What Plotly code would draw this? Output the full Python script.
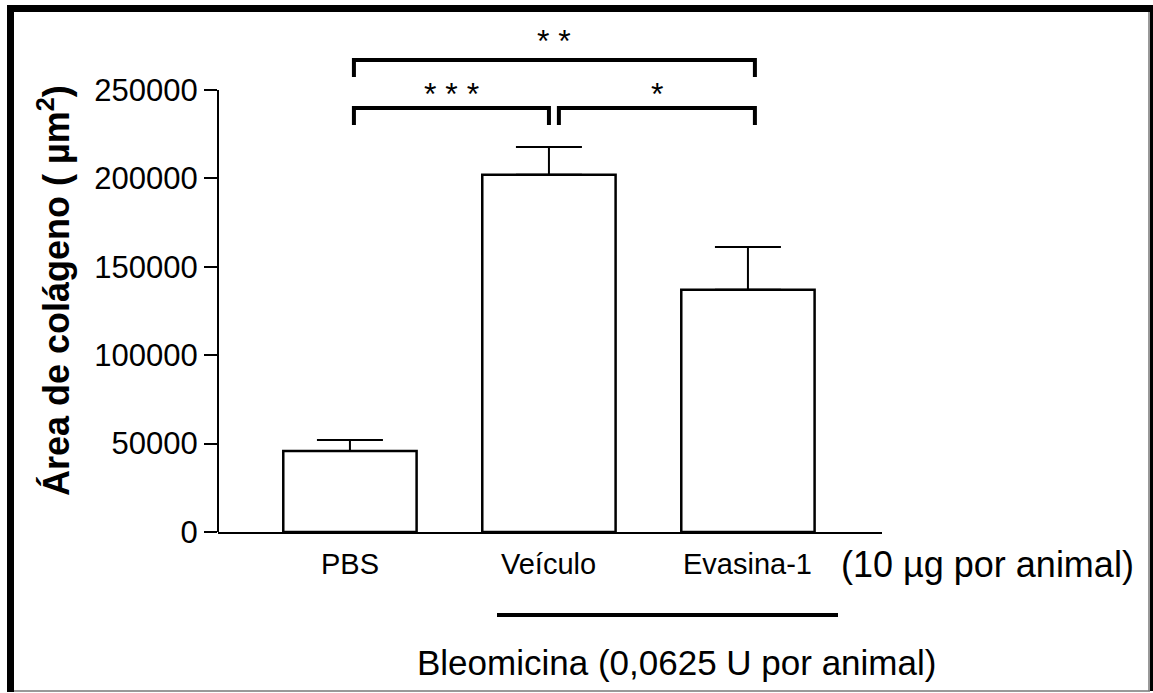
import plotly.graph_objects as go

# Collagen area per group (mean and SEM, µm²)
groups = ["PBS", "Veículo", "Evasina-1"]
means = [45800, 202000, 137000]
sem = [6200, 15800, 24200]

# Significance brackets between groups (tier 0 = lower row)
bracket_from = [0, 0, 1]
bracket_to = [2, 1, 2]
bracket_tier = [1, 0, 0]
bracket_labels = ["* *", "* * *", "*"]

y_ticks = [0, 50000, 100000, 150000, 200000, 250000]

W, H = 1153, 693
FONT = "Liberation Sans, Arial, sans-serif"

# plot-area geometry in pixels
X0_PX, X1_PX = 218, 882
Y0_PX, Y250_PX, YTOP_PX = 532, 90, 19.3
UNITS_PER_PX = 250000 / (Y0_PX - Y250_PX)


def px_x(p):
    return p / W


def px_y(p):
    return 1 - p / H


fig = go.Figure()
fig.add_trace(go.Bar(
    x=list(range(len(groups))),
    y=means,
    width=0.67,
    marker=dict(color="white", line=dict(color="black", width=2.5)),
    error_y=dict(type="data", symmetric=False, array=sem,
                 arrayminus=[0] * len(sem), color="black",
                 thickness=2, width=33),
    showlegend=False,
))

shapes = []
annotations = []

# y axis line up to the last tick
shapes.append(dict(type="line", xref="x domain", yref="y", x0=0, x1=0,
                   y0=0, y1=y_ticks[-1], line=dict(color="black", width=2)))

# brackets
base_level = 239800
tier_step = 48 * UNITS_PER_PX
drop = 17 * UNITS_PER_PX
for a, b, tier, lab in zip(bracket_from, bracket_to, bracket_tier, bracket_labels):
    lvl = base_level + tier * tier_step
    xa = a + 0.02 if a == 0 else a + 0.05
    xb = b + 0.035 if b == len(groups) - 1 else b
    shapes.append(dict(
        type="path", xref="x", yref="y",
        path=f"M {xa},{lvl - drop} L {xa},{lvl} L {xb},{lvl} L {xb},{lvl - drop}",
        line=dict(color="black", width=4)))
    annotations.append(dict(x=(xa + xb) / 2, y=lvl + (14 + 5 * tier) * UNITS_PER_PX,
                            xref="x", yref="y",
                            text=lab, showarrow=False, xanchor="center", yanchor="middle",
                            font=dict(family=FONT, size=32, color="black")))

# category labels
for i, g in enumerate(groups):
    annotations.append(dict(x=i, y=px_y(564), xref="x", yref="paper", text=g,
                            showarrow=False, xanchor="center", yanchor="middle",
                            font=dict(family=FONT, size=29, color="black")))

annotations.append(dict(x=px_x(987), y=px_y(564), xref="paper", yref="paper",
                        text="(10 µg por animal)", showarrow=False,
                        xanchor="center", yanchor="middle",
                        font=dict(family=FONT, size=36, color="black")))

# Bleomicina group line and label
shapes.append(dict(type="line", xref="paper", yref="paper",
                   x0=px_x(497), x1=px_x(838), y0=px_y(615), y1=px_y(615),
                   line=dict(color="black", width=4)))
annotations.append(dict(x=px_x(676), y=px_y(662), xref="paper", yref="paper",
                        text="Bleomicina (0,0625 U por animal)", showarrow=False,
                        xanchor="center", yanchor="middle",
                        font=dict(family=FONT, size=35, color="black")))

# y axis title
annotations.append(dict(x=px_x(54), y=px_y(291), xref="paper", yref="paper",
                        text="<b>Área de colágeno ( µm<sup>2</sup>)</b>", textangle=-90,
                        showarrow=False, xanchor="center", yanchor="middle",
                        font=dict(family=FONT, size=36, color="black")))

# outer frame
shapes += [
    dict(type="rect", xref="paper", yref="paper", x0=px_x(7), x1=px_x(14),
         y0=px_y(692), y1=px_y(5), fillcolor="black", line=dict(width=0)),
    dict(type="rect", xref="paper", yref="paper", x0=px_x(7), x1=1,
         y0=px_y(12), y1=px_y(5), fillcolor="black", line=dict(width=0)),
    dict(type="rect", xref="paper", yref="paper", x0=px_x(1150), x1=1,
         y0=px_y(691), y1=px_y(5), fillcolor="black", line=dict(width=0)),
    dict(type="line", xref="paper", yref="paper", x0=px_x(1149), x1=px_x(1149),
         y0=px_y(691), y1=px_y(12), line=dict(color="#777", width=1.5)),
    dict(type="line", xref="paper", yref="paper", x0=px_x(14), x1=px_x(1150),
         y0=px_y(691), y1=px_y(691), line=dict(color="#777", width=1.5)),
]

y_max = (Y0_PX - YTOP_PX) * UNITS_PER_PX
x_left = -0.663
x_right = x_left + (X1_PX - X0_PX) / 199

fig.update_layout(
    width=W, height=H,
    margin=dict(l=0, r=0, t=0, b=0, pad=0, autoexpand=False),
    paper_bgcolor="white", plot_bgcolor="white",
    shapes=shapes, annotations=annotations,
    xaxis=dict(domain=[px_x(X0_PX), px_x(X1_PX)], range=[x_left, x_right],
               showline=True, linecolor="black", linewidth=2, automargin=False,
               showticklabels=False, ticks="", showgrid=False, zeroline=False),
    yaxis=dict(domain=[px_y(Y0_PX), px_y(YTOP_PX)], range=[0, y_max],
               tickvals=y_ticks, ticktext=[str(v) for v in y_ticks],
               ticks="outside", ticklen=13, tickwidth=2, tickcolor="black",
               showline=False, showgrid=False, zeroline=False, automargin=False,
               tickfont=dict(family=FONT, size=31, color="black")),
)

fig.write_html("out.html")
